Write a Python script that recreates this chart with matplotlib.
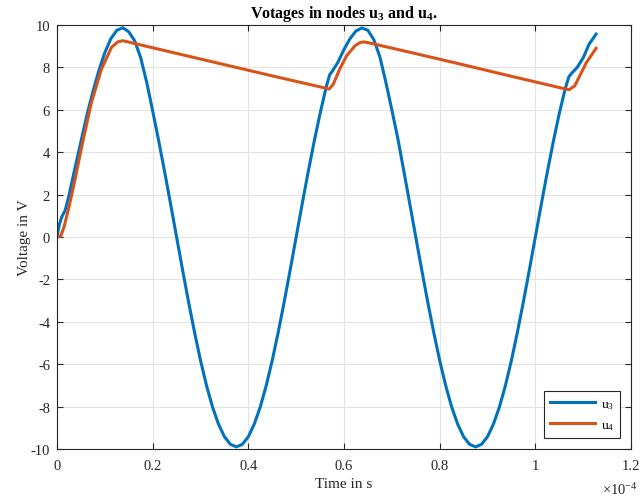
import matplotlib
matplotlib.use("Agg")
import matplotlib.pyplot as plt

# time in units of 1e-4 s
t_u3 = [0, 0.005, 0.01, 0.017, 0.025, 0.0375, 0.05, 0.0625, 0.075, 0.0875, 0.1, 0.1125, 0.125, 0.1375,
        0.15, 0.1625, 0.175, 0.1875, 0.2, 0.2125, 0.225, 0.2375, 0.25, 0.2625, 0.275, 0.2875, 0.3,
        0.3125, 0.325, 0.3375, 0.35, 0.3625, 0.375, 0.3875, 0.4, 0.4125, 0.425, 0.4375, 0.45, 0.4625,
        0.475, 0.4875, 0.5, 0.5125, 0.525, 0.5375, 0.55, 0.5625, 0.57, 0.575, 0.5875, 0.6, 0.6125,
        0.625, 0.6375, 0.65, 0.6625, 0.675, 0.6875, 0.7, 0.7125, 0.725, 0.7375, 0.75, 0.7625, 0.775,
        0.7875, 0.8, 0.8125, 0.825, 0.8375, 0.85, 0.8625, 0.875, 0.8875, 0.9, 0.9125, 0.925, 0.9375,
        0.95, 0.9625, 0.975, 0.9875, 1.0, 1.0125, 1.025, 1.0375, 1.05, 1.0625, 1.07, 1.075, 1.0875,
        1.1, 1.1125, 1.127]
u3 = [0, 0.6, 0.95, 1.25, 1.95, 3.25, 4.5, 5.75, 6.85, 7.85, 8.7, 9.35, 9.75, 9.87,
      9.68, 9.25, 8.45, 7.3, 5.95, 4.55, 3.08, 1.55, 0, -1.55, -3.06, -4.49, -5.82,
      -7.0, -8.01, -8.82, -9.42, -9.78, -9.9, -9.78, -9.42, -8.82, -8.01, -7.0, -5.82, -4.49,
      -3.06, -1.55, 0, 1.55, 3.06, 4.49, 5.82, 7.05, 7.65, 7.8, 8.25, 8.85, 9.35,
      9.72, 9.86, 9.75, 9.3, 8.5, 7.3, 6.0, 4.65, 3.12, 1.57, 0, -1.55, -3.06,
      -4.49, -5.82, -7.0, -8.01, -8.82, -9.42, -9.78, -9.9, -9.78, -9.42, -8.82, -8.01, -7.0,
      -5.82, -4.49, -3.06, -1.55, 0, 1.55, 3.06, 4.49, 5.82, 7.0, 7.55, 7.7, 8.0,
      8.45, 9.1, 9.57]

t_u4 = [0, 0.008, 0.015, 0.024, 0.038, 0.052, 0.072, 0.093, 0.114, 0.127, 0.137, 0.145, 0.25, 0.35,
        0.45, 0.56, 0.569, 0.5775, 0.591, 0.6055, 0.623, 0.634, 0.642, 0.65, 0.75, 0.85, 0.95, 1.06,
        1.071, 1.0826, 1.093, 1.107, 1.127]
u4 = [0, 0.05, 0.5, 1.32, 2.74, 4.3, 6.35, 7.92, 8.95, 9.2, 9.26, 9.22, 8.66, 8.13,
      7.6, 7.03, 6.98, 7.2, 7.92, 8.55, 9.02, 9.18, 9.2, 9.17, 8.65, 8.12, 7.58, 7.0,
      6.95, 7.14, 7.61, 8.24, 8.9]

x_ticks = [0, 0.2, 0.4, 0.6, 0.8, 1.0, 1.2]
x_tick_labels = ["0", "0.2", "0.4", "0.6", "0.8", "1", "1.2"]
y_ticks = [-10, -8, -6, -4, -2, 0, 2, 4, 6, 8, 10]

plt.rcParams['font.family'] = ['Liberation Serif', 'DejaVu Serif']
plt.rcParams['mathtext.fontset'] = 'custom'
plt.rcParams['mathtext.rm'] = 'Liberation Serif'
plt.rcParams['mathtext.it'] = 'Liberation Serif'
plt.rcParams['mathtext.bf'] = 'Liberation Serif:bold'
plt.rcParams['axes.unicode_minus'] = False

fig = plt.figure(figsize=(6.43, 5.02), dpi=100)
ax = fig.add_axes([57/643, 1 - 450/502, (631-57)/643, (450-26)/502])

ax.plot(t_u3, u3, color='#0072BD', lw=2.2, label='u$_3$', solid_joinstyle='round')
ax.plot(t_u4, u4, color='#D95319', lw=2.2, label='u$_4$', solid_joinstyle='round')

ax.set_xlim(0, 1.2)
ax.set_ylim(-10, 10)
ax.set_xticks(x_ticks)
ax.set_xticklabels(x_tick_labels)
ax.set_yticks(y_ticks)
ax.set_yticklabels([str(v) for v in y_ticks])
ax.grid(True, color='#e3e3e3', lw=0.8)
ax.set_axisbelow(True)
edge = '#262626'
for s in ax.spines.values():
    s.set_color(edge)
    s.set_linewidth(0.8)
ax.tick_params(direction='in', length=4, width=0.8, color=edge, labelsize=10.5,
               top=True, right=True, labelcolor='#262626')
ax.tick_params(axis='x', pad=7)
ax.tick_params(axis='y', pad=5)

ax.set_xlabel('Time in s', fontsize=11, color='#262626', labelpad=4)
ax.set_ylabel('Voltage in V', fontsize=11, color='#262626', labelpad=0)
ax.set_title(r'Votages in nodes u$_\mathbf{3}$ and u$_\mathbf{4}$.', fontsize=11.5,
             fontweight='bold', pad=6)
fig.text(620/643, 1 - 490/502, r'$\times$10$^{-4}$', fontsize=10.5, ha='center', va='center',
         color='#262626')

leg = ax.legend(loc='lower right', fontsize=9.5, handlelength=3.4, handletextpad=0.4,
                borderpad=0.5, labelspacing=0.6, frameon=True, fancybox=False,
                borderaxespad=0.8, edgecolor='#262626', framealpha=1)
leg.get_frame().set_linewidth(0.8)

fig.savefig('out.png', dpi=100)
